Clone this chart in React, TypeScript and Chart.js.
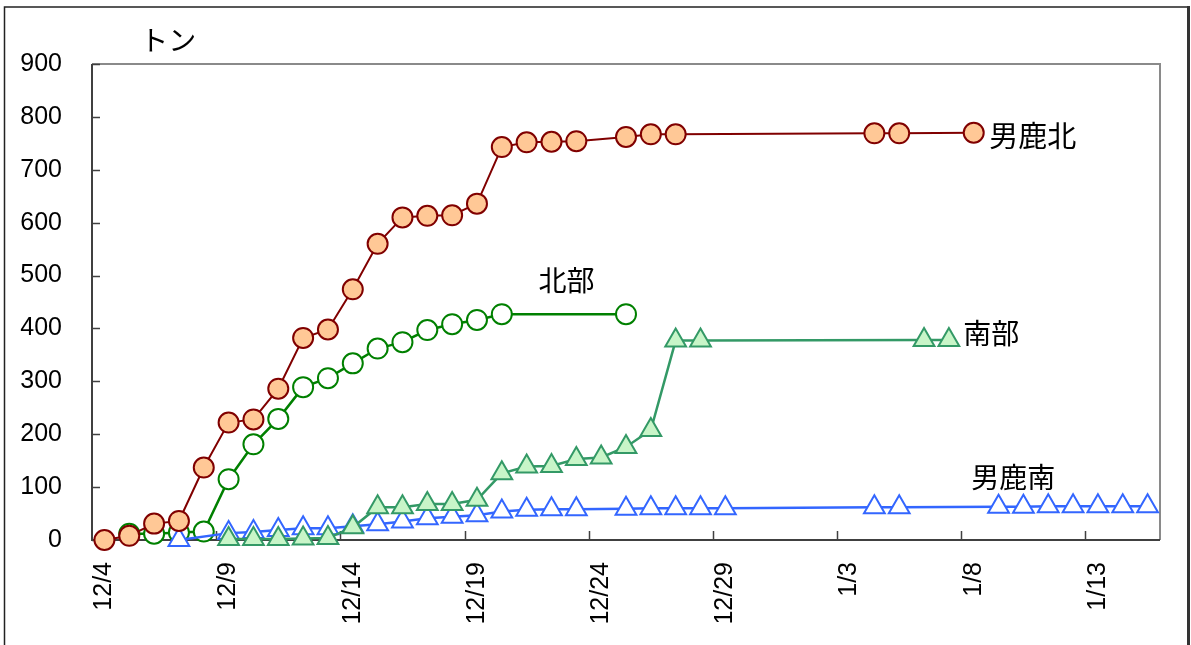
import React, { useEffect, useRef } from 'react';
import { Chart, registerables } from 'chart.js';

Chart.register(...registerables);

const dates = [
  '12/4', '12/5', '12/6', '12/7', '12/8', '12/9', '12/10', '12/11', '12/12', '12/13',
  '12/14', '12/15', '12/16', '12/17', '12/18', '12/19', '12/20', '12/21', '12/22', '12/23',
  '12/24', '12/25', '12/26', '12/27', '12/28', '12/29', '12/30', '12/31', '1/1', '1/2',
  '1/3', '1/4', '1/5', '1/6', '1/7', '1/8', '1/9', '1/10', '1/11', '1/12',
  '1/13', '1/14', '1/15',
];

const ogaNorth = [
  0, 8, 31, 36, 137, 222, 228, 286, 382, 398,
  474, 560, 610, 613, 614, 636, 743, 752, 753, 754,
  null, 762, 767, 767, null, null, null, null, null, null,
  null, 769, 769, null, null, 770, null, null, null, null,
  null, null, null,
];

const hokubu = [
  null, 12, 12, 14, 16, 115, 181, 229, 289, 306,
  334, 362, 374, 397, 408, 416, 427, null, null, null,
  null, 427, null, null, null, null, null, null, null, null,
  null, null, null, null, null, null, null, null, null, null,
  null, null, null,
];

const nanbu = [
  null, null, null, null, null, 2, 2, 2, 3, 4,
  24, 62, 62, 68, 68, 76, 126, 139, 140, 153,
  156, 176, 208, 377, 377, null, null, null, null, null,
  null, null, null, 378, 378, null, null, null, null, null,
  null, null, null,
];

const ogaSouth = [
  null, null, null, 0, null, 13, 15, 19, 22, 22,
  26, 30, 35, 41, 44, 47, 54, 57, 58, 58,
  null, 59, 60, 60, 60, 60, null, null, null, null,
  null, 62, 62, null, null, null, 63, 63, 64, 64,
  64, 64, 64,
];

const seriesNames = ['男鹿北', '北部', '南部', '男鹿南'];

// annotation anchors in data units: [text, category index (fractional), value, font px]
const annotations: [string, number, number, number][] = [
  ['男鹿北', 35.63, 764, 29],
  ['北部', 17.48, 491, 28],
  ['南部', 34.58, 391, 28],
  ['男鹿南', 34.9, 119, 28],
  ['トン', 1.44, 945, 28],
];

const yMin = 0;
const yMax = 900;
const yStep = 100;
const labelEvery = 5;

const CJK = '"Noto Sans CJK JP", "Noto Sans", sans-serif';
const LATIN = '"Liberation Sans", Arial, sans-serif';

const framePlugin = {
  id: 'frame',
  beforeDatasetsDraw(chart: any) {
    const { ctx, chartArea } = chart;
    const { left, right, top, bottom } = chartArea;
    const xs = chart.scales.x;
    const ys = chart.scales.y;
    ctx.save();
    ctx.lineWidth = 2;
    ctx.strokeStyle = '#8a8a8a';
    ctx.beginPath();
    ctx.moveTo(left, top);
    ctx.lineTo(right, top);
    ctx.lineTo(right, bottom);
    ctx.stroke();
    ctx.strokeStyle = '#404040';
    ctx.beginPath();
    ctx.moveTo(left, top);
    ctx.lineTo(left, bottom);
    ctx.lineTo(right, bottom);
    ctx.stroke();
    ctx.lineWidth = 1.5;
    ctx.beginPath();
    ys.ticks.forEach((t: any) => {
      const py = Math.round(ys.getPixelForValue(t.value)) + 0.5;
      ctx.moveTo(left, py);
      ctx.lineTo(left + 8, py);
    });
    for (let k = labelEvery; k < dates.length; k += labelEvery) {
      const px = Math.round(xs.getPixelForValue(k - 0.5)) + 0.5;
      ctx.moveTo(px, bottom);
      ctx.lineTo(px, bottom - 9);
    }
    ctx.stroke();
    ctx.restore();
  },
  afterDraw(chart: any) {
    const { ctx } = chart;
    const xs = chart.scales.x;
    const ys = chart.scales.y;
    ctx.save();
    ctx.fillStyle = '#000';
    ctx.textBaseline = 'middle';
    ctx.textAlign = 'left';
    annotations.forEach(([text, idx, val, size]) => {
      ctx.font = `${size}px ${CJK}`;
      ctx.fillText(text, xs.getPixelForValue(idx), ys.getPixelForValue(val));
    });
    // outer chart border
    ctx.strokeStyle = '#222';
    ctx.lineWidth = 1.5;
    ctx.beginPath();
    ctx.moveTo(4.5, chart.height + 20);
    ctx.lineTo(4.5, 7);
    ctx.lineTo(1188, 7);
    ctx.stroke();
    ctx.lineWidth = 3;
    ctx.strokeStyle = '#333';
    ctx.beginPath();
    ctx.moveTo(1188.5, 6);
    ctx.lineTo(1188.5, chart.height + 20);
    ctx.stroke();
    ctx.restore();
  },
};

export default function App() {
  const ref = useRef<HTMLCanvasElement>(null);
  useEffect(() => {
    const chart = new Chart(ref.current as HTMLCanvasElement, {
      type: 'line',
      data: {
        labels: dates,
        datasets: [
          {
            label: seriesNames[0],
            data: ogaNorth,
            borderColor: '#800000',
            backgroundColor: '#FFC896',
            pointBackgroundColor: '#FFC896',
            pointBorderColor: '#800000',
            pointBorderWidth: 2,
            pointRadius: 10,
            pointStyle: 'circle',
            borderWidth: 2,
            spanGaps: true,
            clip: false,
          },
          {
            label: seriesNames[2],
            data: nanbu,
            borderColor: '#339966',
            pointBackgroundColor: '#C8F5C8',
            pointBorderColor: '#339966',
            pointBorderWidth: 2,
            pointRadius: 12,
            pointStyle: 'triangle',
            borderWidth: 2.5,
            spanGaps: true,
            clip: false,
          },
          {
            label: seriesNames[3],
            data: ogaSouth,
            borderColor: '#3366FF',
            pointBackgroundColor: '#FFFFFF',
            pointBorderColor: '#3366FF',
            pointBorderWidth: 2,
            pointRadius: 12,
            pointStyle: 'triangle',
            borderWidth: 2.5,
            spanGaps: true,
            clip: false,
          },
          {
            label: seriesNames[1],
            data: hokubu,
            borderColor: '#008000',
            pointBackgroundColor: '#FFFFFF',
            pointBorderColor: '#008000',
            pointBorderWidth: 2,
            pointRadius: 10,
            pointStyle: 'circle',
            borderWidth: 2.5,
            spanGaps: true,
            clip: false,
          },
        ],
      },
      options: {
        responsive: false,
        animation: false,
        layout: { padding: { left: 20, right: 31, top: 64, bottom: 20 } },
        plugins: {
          legend: { display: false },
          tooltip: { enabled: false },
          title: { display: false },
        },
        elements: { line: { tension: 0 } },
        scales: {
          x: {
            type: 'category',
            offset: true,
            grid: { display: false, drawTicks: false },
            border: { display: false },
            afterFit: (s: any) => {
              s.height = 85;
              s.paddingLeft = 0;
              s.paddingRight = 0;
            },
            ticks: {
              autoSkip: false,
              maxRotation: 90,
              minRotation: 90,
              padding: 22,
              color: '#000',
              font: { size: 25, family: LATIN },
              callback: (_v: any, i: number) => (i % labelEvery === 0 ? dates[i] : ''),
            },
          },
          y: {
            min: yMin,
            max: yMax,
            grid: { display: false, drawTicks: false },
            border: { display: false },
            afterFit: (s: any) => {
              s.width = 72;
              s.paddingTop = 0;
              s.paddingBottom = 0;
            },
            ticks: {
              stepSize: yStep,
              padding: 30,
              color: '#000',
              font: { size: 25, family: LATIN },
            },
          },
        },
      },
      plugins: [framePlugin],
    } as any);
    return () => chart.destroy();
  }, []);
  return (
    <div style={{ position: 'absolute', left: 0, top: 0, width: 1191, height: 645, background: '#fff' }}>
      <canvas ref={ref} width={1191} height={645} style={{ display: 'block' }} />
    </div>
  );
}
